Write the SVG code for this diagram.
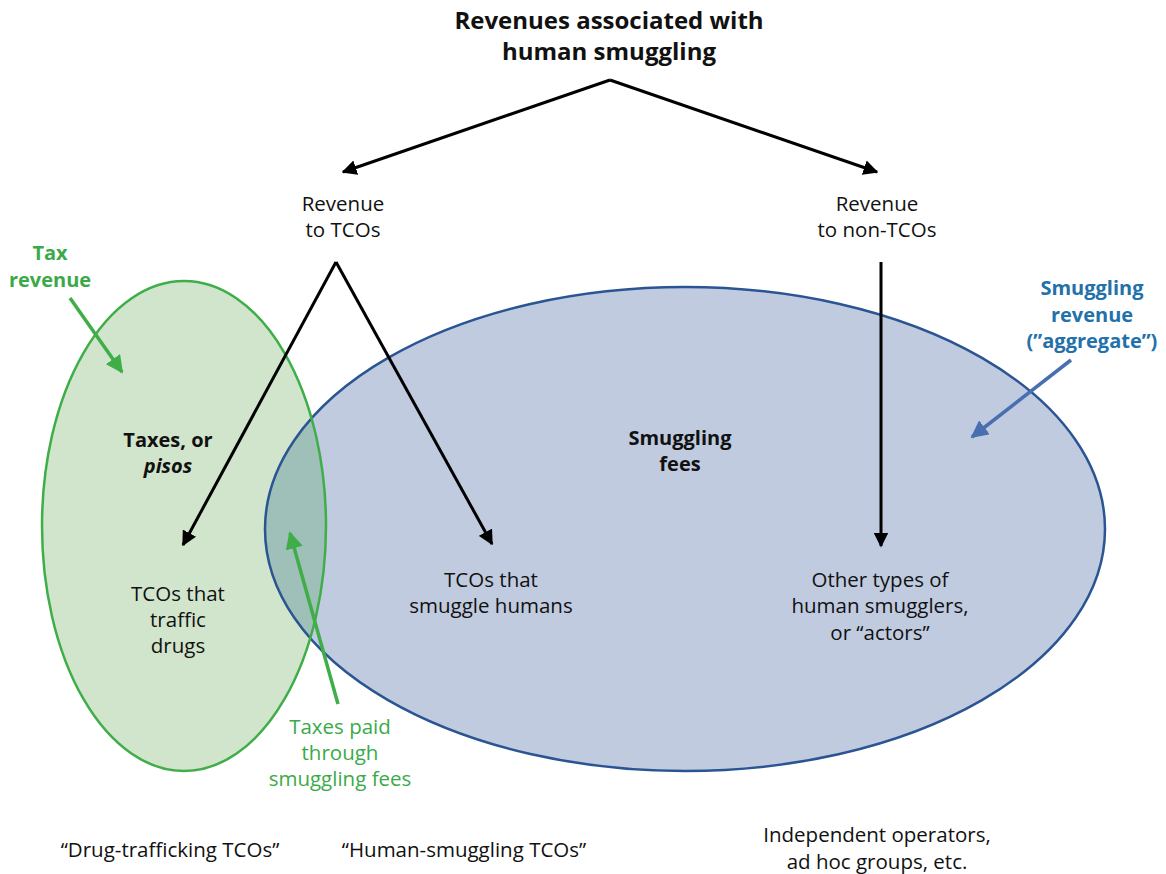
<svg xmlns="http://www.w3.org/2000/svg" width="1166" height="874" viewBox="0 0 1166 874">
<style>
text{font-family:"Open Sans","Noto Sans","Liberation Sans",sans-serif;font-size:20.5px;fill:#111;text-anchor:middle}
.b{font-weight:bold;font-size:20px}
.t{font-size:24px;font-weight:bold}
.g{fill:#3aaa48}
.bl{fill:#2370aa}
.k{stroke:#000;stroke-width:3;fill:none}
.ga{stroke:#3fae49;stroke-width:3.5;fill:none}
.ba{stroke:#4a6fb0;stroke-width:3.5;fill:none}
</style>
<defs>
<marker id="ak" viewBox="0 0 10 10" refX="9" refY="5" markerWidth="5" markerHeight="5" markerUnits="strokeWidth" orient="auto"><path d="M0,0 L10,5 L0,10 z" fill="#000"/></marker>
<marker id="ag" viewBox="0 0 10 10" refX="9" refY="5" markerWidth="5" markerHeight="5" markerUnits="strokeWidth" orient="auto"><path d="M0,0 L10,5 L0,10 z" fill="#3fae49"/></marker>
<marker id="ab" viewBox="0 0 10 10" refX="9" refY="5" markerWidth="5" markerHeight="5" markerUnits="strokeWidth" orient="auto"><path d="M0,0 L10,5 L0,10 z" fill="#4a6fb0"/></marker>
<clipPath id="cb"><ellipse cx="685" cy="529" rx="420" ry="242"/></clipPath>
</defs>
<rect width="1166" height="874" fill="#fff"/>
<g id="sets">
<ellipse id="green-set" cx="184" cy="526" rx="142" ry="245" fill="#d0e5cb"/>
<ellipse id="blue-set" cx="685" cy="529" rx="420" ry="242" fill="#c0cbe0"/>
<ellipse cx="184" cy="526" rx="142" ry="245" fill="#9fbfb9" clip-path="url(#cb)"/>
<ellipse cx="685" cy="529" rx="420" ry="242" fill="none" stroke="#2a5592" stroke-width="2.5"/>
<ellipse cx="184" cy="526" rx="142" ry="245" fill="none" stroke="#3fae49" stroke-width="2.5"/>
</g>
<g id="connectors">
<path class="k" d="M610,80 L343,172" marker-end="url(#ak)"/>
<path class="k" d="M610,80 L877,172" marker-end="url(#ak)"/>
<path class="k" d="M336,262 L183,545" marker-end="url(#ak)"/>
<path class="k" d="M336,262 L492,544" marker-end="url(#ak)"/>
<path class="k" d="M881,262 L881,546" marker-end="url(#ak)"/>
<path class="ga" d="M70,298 L122,372" marker-end="url(#ag)"/>
<path class="ga" d="M338,704 L290,533" marker-end="url(#ag)"/>
<path class="ba" d="M1071,360 L972,437" marker-end="url(#ab)"/>
</g>
<g id="title"><text class="t" x="609" y="29">Revenues associated with</text><text class="t" x="609" y="60">human smuggling</text></g>
<g id="rev-tcos"><text x="343" y="211">Revenue</text><text x="343" y="237">to TCOs</text></g>
<g id="rev-non-tcos"><text x="877" y="211">Revenue</text><text x="877" y="237">to non-TCOs</text></g>
<g id="tax-revenue"><text class="b g" x="50" y="260">Tax</text><text class="b g" x="50" y="287">revenue</text></g>
<g id="taxes-pisos"><text class="b" x="168" y="447">Taxes, or</text><text class="b" x="168" y="473" font-style="italic">pisos</text></g>
<g id="smuggling-fees"><text class="b" x="680" y="445">Smuggling</text><text class="b" x="680" y="471">fees</text></g>
<g id="smuggling-revenue"><text class="b bl" x="1092" y="295">Smuggling</text><text class="b bl" x="1092" y="322">revenue</text><text class="b bl" x="1092" y="348">(”aggregate”)</text></g>
<g id="tcos-drugs"><text x="178" y="601">TCOs that</text><text x="178" y="627">traffic</text><text x="178" y="653">drugs</text></g>
<g id="tcos-humans"><text x="491" y="587">TCOs that</text><text x="491" y="613">smuggle humans</text></g>
<g id="other-smugglers"><text x="880" y="587">Other types of</text><text x="880" y="613">human smugglers,</text><text x="880" y="640">or “actors”</text></g>
<g id="taxes-paid"><text class="g" x="340" y="734">Taxes paid</text><text class="g" x="340" y="760">through</text><text class="g" x="340" y="786">smuggling fees</text></g>
<g id="bottom-labels">
<text x="170" y="857">“Drug-trafficking TCOs”</text>
<text x="464" y="857">“Human-smuggling TCOs”</text>
<text x="877" y="842">Independent operators,</text>
<text x="877" y="869">ad hoc groups, etc.</text>
</g>
</svg>
